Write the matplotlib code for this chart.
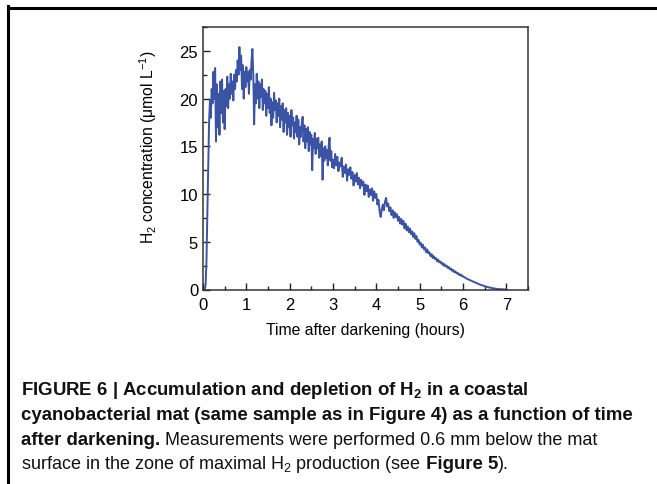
import matplotlib
matplotlib.use("Agg")
import matplotlib.pyplot as plt
from matplotlib.lines import Line2D
from matplotlib.ticker import MultipleLocator

plt.rcParams['font.family'] = ['Liberation Sans', 'DejaVu Sans']
plt.rcParams['mathtext.fontset'] = 'custom'
plt.rcParams['mathtext.rm'] = 'Liberation Sans'
plt.rcParams['mathtext.it'] = 'Liberation Sans:italic'
plt.rcParams['mathtext.bf'] = 'Liberation Sans:bold'

# ---- data ----
time_h = [0.00, 0.04, 0.06, 0.08, 0.10, 0.12, 0.14, 0.16, 0.18, 0.20,
          0.22, 0.24, 0.26, 0.28, 0.30, 0.32, 0.34, 0.36, 0.38, 0.40,
          0.42, 0.44, 0.46, 0.48, 0.50, 0.52, 0.54, 0.56, 0.58, 0.60,
          0.62, 0.64, 0.66, 0.68, 0.70, 0.72, 0.74, 0.76, 0.78, 0.80,
          0.82, 0.84, 0.86, 0.88, 0.90, 0.92, 0.94, 0.96, 0.98, 1.00,
          1.02, 1.04, 1.06, 1.08, 1.10, 1.12, 1.14, 1.16, 1.18, 1.20,
          1.22, 1.24, 1.26, 1.28, 1.30, 1.32, 1.34, 1.36, 1.38, 1.40,
          1.42, 1.44, 1.46, 1.48, 1.50, 1.52, 1.54, 1.56, 1.58, 1.60,
          1.62, 1.64, 1.66, 1.68, 1.70, 1.72, 1.74, 1.76, 1.78, 1.80,
          1.82, 1.84, 1.86, 1.88, 1.90, 1.92, 1.94, 1.96, 1.98, 2.00,
          2.02, 2.04, 2.06, 2.08, 2.10, 2.12, 2.14, 2.16, 2.18, 2.20,
          2.22, 2.24, 2.26, 2.28, 2.30, 2.32, 2.34, 2.36, 2.38, 2.40,
          2.42, 2.44, 2.46, 2.48, 2.50, 2.52, 2.54, 2.56, 2.58, 2.60,
          2.62, 2.64, 2.66, 2.68, 2.70, 2.72, 2.74, 2.76, 2.78, 2.80,
          2.82, 2.84, 2.86, 2.88, 2.90, 2.92, 2.94, 2.96, 2.98,
          3.000, 3.025, 3.050, 3.075, 3.100, 3.125, 3.150, 3.175, 3.200, 3.225,
          3.250, 3.275, 3.300, 3.325, 3.350, 3.375, 3.400, 3.425, 3.450, 3.475,
          3.500, 3.525, 3.550, 3.575, 3.600, 3.625, 3.650, 3.675, 3.700, 3.725,
          3.750, 3.775, 3.800, 3.825, 3.850, 3.875, 3.900, 3.925, 3.950, 3.975,
          4.000, 4.025, 4.050, 4.075, 4.100, 4.125, 4.150, 4.175, 4.200, 4.225,
          4.250, 4.275, 4.300, 4.325, 4.350, 4.375, 4.400, 4.425, 4.450, 4.475,
          4.500, 4.525, 4.550, 4.575, 4.600, 4.625, 4.650, 4.675, 4.700, 4.725,
          4.750, 4.775, 4.800, 4.825, 4.850, 4.875, 4.900, 4.925, 4.950, 4.975,
          5.000, 5.025, 5.050, 5.075, 5.100, 5.125, 5.150, 5.175, 5.200, 5.225,
          5.250, 5.275, 5.300, 5.325, 5.350, 5.375, 5.400, 5.425, 5.450, 5.475,
          5.500, 5.525, 5.550, 5.575, 5.600, 5.625, 5.650, 5.675, 5.700, 5.725,
          5.750, 5.775, 5.800, 5.825, 5.850, 5.875, 5.900, 5.925, 5.950, 5.975,
          6.000, 6.050, 6.100, 6.150, 6.200, 6.250, 6.300, 6.400, 6.500, 6.600,
          6.700, 6.800, 6.900, 7.000]
h2_umol = [0.0, 0.0, 0.5, 3.0, 8.0, 13.5, 17.5, 19.8, 18.0, 21.0,
           19.5, 22.8, 20.0, 23.2, 15.5, 21.5, 17.0, 20.5, 16.2, 21.8,
           18.5, 22.0, 17.5, 20.8, 16.8, 21.0, 19.2, 22.3, 19.0, 21.5,
           20.0, 22.6, 20.5, 21.8, 19.8, 22.5, 21.0, 23.0, 21.8, 24.0,
           22.5, 25.4, 23.0, 24.5, 21.0, 23.5, 20.0, 22.8, 21.2, 23.3,
           21.8, 22.8, 20.5, 23.0, 22.0, 24.0, 25.2, 22.5, 17.3, 21.5,
           19.5, 22.6, 20.0, 21.8, 19.0, 21.5, 20.2, 22.0, 18.8, 21.0,
           19.5, 20.8, 18.2, 20.5, 19.0, 21.2, 18.5, 20.0, 17.2, 19.6,
           18.0, 20.6, 18.8, 19.8, 17.5, 19.5, 18.2, 20.0, 17.0, 19.2,
           17.8, 19.5, 16.5, 18.8, 17.5, 19.0, 16.2, 18.5, 17.0, 18.2,
           16.0, 18.8, 17.2, 18.0, 15.8, 17.5, 16.5, 18.2, 16.0, 17.8,
           15.2, 17.0, 16.0, 17.5, 18.1, 15.5, 17.2, 14.8, 16.8, 15.5,
           17.0, 14.5, 16.5, 15.2, 16.2, 12.5, 15.8, 14.8, 16.4, 14.2,
           15.8, 14.8, 15.9, 13.8, 15.2, 14.0, 15.5, 11.5, 14.8, 13.5,
           15.0, 13.8, 14.6, 13.0, 15.0, 15.9, 13.5, 14.5, 12.8,
           13.6, 12.7, 14.2, 13.0, 13.9, 12.4, 13.3, 12.9, 13.8, 11.8,
           12.9, 12.2, 13.1, 11.4, 12.6, 12.0, 12.8, 11.6, 12.3, 10.9,
           12.0, 11.3, 12.2, 11.0, 11.7, 10.6, 11.5, 10.9, 11.3, 9.9,
           11.0, 10.3, 10.9, 9.7, 10.5, 9.9, 10.6, 9.3, 10.3, 9.6,
           10.0, 8.9, 9.4, 8.2, 7.6, 8.4, 8.9, 8.3, 9.2, 9.6,
           8.7, 9.0, 8.2, 8.6, 7.8, 8.3, 7.5, 8.1, 7.6, 7.9,
           7.2, 7.6, 6.9, 7.4, 6.8, 7.2, 6.4, 6.9, 6.2, 6.6,
           6.0, 6.4, 5.8, 6.1, 5.5, 5.9, 5.3, 5.6, 5.0, 5.2,
           4.7, 4.9, 4.4, 4.7, 4.2, 4.4, 3.9, 4.2, 3.8, 3.9,
           3.5, 3.7, 3.3, 3.5, 3.2, 3.3, 2.95, 3.15, 2.85, 2.95,
           2.7, 2.8, 2.5, 2.65, 2.4, 2.5, 2.25, 2.35, 2.1, 2.2,
           1.95, 2.05, 1.8, 1.9, 1.7, 1.75, 1.55, 1.6, 1.45, 1.5,
           1.35, 1.25, 1.1, 1.0, 0.9, 0.8, 0.7, 0.5, 0.35, 0.22,
           0.12, 0.05, 0.02, 0.0]
x_ticks = [0, 1, 2, 3, 4, 5, 6, 7]
y_ticks = [0, 5, 10, 15, 20, 25]

W, H = 657, 485
fig = plt.figure(figsize=(W / 100, H / 100), dpi=100)
ax = fig.add_axes([203 / W, 1 - 290.5 / H, (528 - 203) / W, (290.5 - 28) / H])

ax.plot(time_h, h2_umol, color='#3a53a4', lw=1.4)
ax.set_xlim(0, 7.5)
ax.set_ylim(0, 27.5)
ax.set_xticks(x_ticks)
ax.set_yticks(y_ticks)
ax.xaxis.set_minor_locator(MultipleLocator(0.5))
ax.yaxis.set_minor_locator(MultipleLocator(2.5))
ax.tick_params(which='both', direction='in', top=False, right=False,
               labelsize=12, color='#222222', width=1.0)
ax.tick_params(axis='x', which='both', pad=5.5)
ax.tick_params(which='major', length=5)
ax.tick_params(which='minor', length=3)
for s in ax.spines.values():
    s.set_color('#333333')
    s.set_linewidth(1.1)

ax.set_xlabel('Time after darkening (hours)', fontsize=11.3, labelpad=7)
ax.set_ylabel(r'H$_2$ concentration (μmol L$^{-1}$)', fontsize=11.3)
ax.yaxis.set_label_coords(-0.136, 0.545)

# frame lines
fig.add_artist(Line2D([7.5 / W, 1.0], [1 - 8.5 / H, 1 - 8.5 / H],
                      transform=fig.transFigure, color='black', lw=2.2))
fig.add_artist(Line2D([7.5 / W, 7.5 / W], [0, 1 - 8.5 / H + 1.1 / H],
                      transform=fig.transFigure, color='black', lw=2.2))

# caption
lines = [
    [(r'FIGURE 6 | Accumulation and depletion of H$_\mathbf{2}$ in a coastal', 'bold')],
    [('cyanobacterial mat (same sample as in Figure 4) as a function of time', 'bold')],
    [('after darkening.', 'bold'),
     (' Measurements were performed 0.6 mm below the mat', 'normal')],
    [(r'surface in the zone of maximal H$_2$ production (see', 'normal'),
     (' Figure 5', 'bold'), (').', 'normal')],
]
sizes = {'bold': 13.4, 'normal': 13.0}
baselines = [395, 420, 445, 469]
fig.canvas.draw()
renderer = fig.canvas.get_renderer()
for segs, yb in zip(lines, baselines):
    x = 21.0
    for txt, wt in segs:
        t = fig.text(x / W, 1 - yb / H, txt, fontsize=sizes[wt], fontweight=wt,
                     va='baseline', ha='left', color='#111111')
        ext = t.get_window_extent(renderer)
        x = ext.x1

fig.savefig('out.png', dpi=100)
